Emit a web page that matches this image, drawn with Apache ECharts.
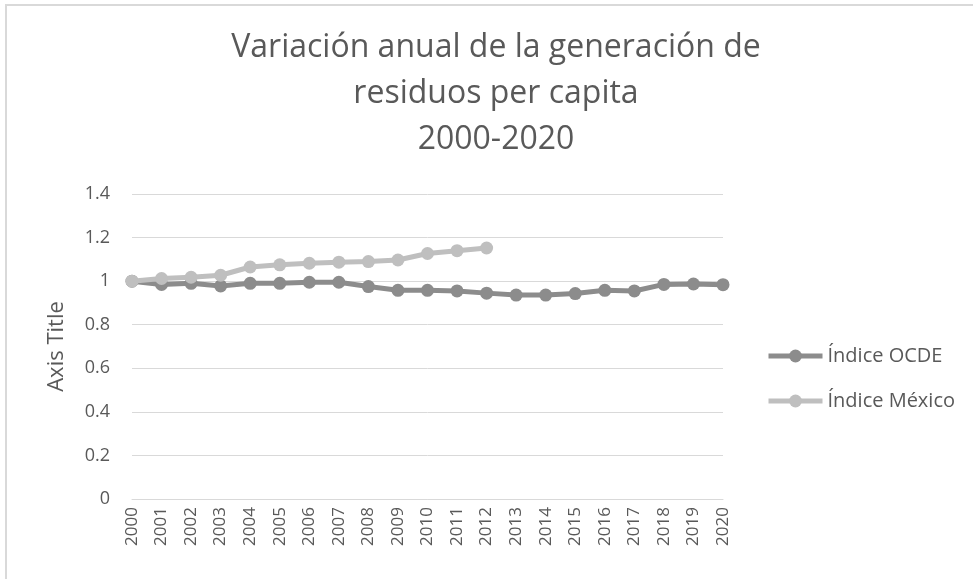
<!DOCTYPE html>
<html>
<head>
<meta charset="utf-8">
<script src="https://cdn.jsdelivr.net/npm/echarts@6/dist/echarts.min.js"></script>
<style>
  html, body { margin: 0; padding: 0; background: #fff; }
  #frame { position: absolute; left: 5px; top: 4px; width: 968px; height: 575px;
           border-top: 2px solid #d9d9d9; border-left: 2px solid #d9d9d9; }
  #chart { position: absolute; left: 0; top: 0; width: 973px; height: 579px; }
</style>
</head>
<body>
<div id="frame"></div>
<div id="chart"></div>
<script>
// datos
var years = ['2000','2001','2002','2003','2004','2005','2006','2007','2008','2009','2010',
             '2011','2012','2013','2014','2015','2016','2017','2018','2019','2020'];
var indiceOCDE = [1.0, 0.985, 0.99, 0.978, 0.99, 0.99, 0.995, 0.995, 0.975, 0.958, 0.958,
                  0.955, 0.945, 0.936, 0.936, 0.943, 0.958, 0.955, 0.985, 0.987, 0.984];
var indiceMexico = [1.0, 1.012, 1.018, 1.027, 1.065, 1.075, 1.082, 1.087, 1.09, 1.097, 1.127,
                    1.14, 1.152];
var yTicks = [0, 0.2, 0.4, 0.6, 0.8, 1, 1.2, 1.4];

(function(){

var chart = echarts.init(document.getElementById('chart'));
var txt = '#595959';

var option = {
    title: {
        text: 'Variación anual de la generación de\nresiduos per capita\n2000-2020',
        left: 491,
        top: 20,
        textAlign: 'center',
        padding: 5,
        textStyle: {
            fontFamily: 'Open Sans',
            fontWeight: 'normal',
            fontSize: 32,
            lineHeight: 46,
            color: txt
        }
    },
    legend: {
        orient: 'vertical',
        left: 761,
        top: 339,
        itemWidth: 54,
        itemHeight: 16,
        itemGap: 21,
        lineStyle: { width: 5 },
        textStyle: { fontFamily: 'Open Sans', fontSize: 20, lineHeight: 24, color: txt },
        data: ['Índice OCDE', 'Índice México']
    },
    grid: {
        left: 132,
        right: 250,
        top: 194,
        bottom: 80,
        containLabel: false
    },
    xAxis: {
        type: 'category',
        boundaryGap: false,
        data: years,
        axisLine: { lineStyle: { color: '#d9d9d9', width: 1 } },
        axisTick: { show: false },
        axisLabel: {
            rotate: 90,
            interval: 0,
            margin: 8,
            fontFamily: 'Open Sans',
            fontSize: 17,
            color: txt
        }
    },
    yAxis: {
        type: 'value',
        min: yTicks[0],
        max: yTicks[yTicks.length - 1],
        interval: 0.2,
        name: 'Axis Title',
        nameLocation: 'middle',
        nameRotate: 90,
        nameGap: 64,
        nameTextStyle: { fontFamily: 'Open Sans', fontSize: 22, color: txt },
        axisLine: { show: false },
        axisTick: { show: false },
        axisLabel: {
            margin: 22,
            fontFamily: 'Open Sans',
            fontSize: 18,
            color: txt,
            formatter: function (v) { return String(Math.round(v * 10) / 10); }
        },
        splitLine: { lineStyle: { color: '#d9d9d9', width: 1 } }
    },
    series: [
        {
            name: 'Índice OCDE',
            type: 'line',
            data: indiceOCDE,
            symbol: 'circle',
            symbolSize: 13,
            lineStyle: { width: 5, color: '#8c8c8c' },
            itemStyle: { color: '#8c8c8c' },
            z: 2
        },
        {
            name: 'Índice México',
            type: 'line',
            data: indiceMexico,
            symbol: 'circle',
            symbolSize: 13,
            lineStyle: { width: 5, color: '#bfbfbf' },
            itemStyle: { color: '#bfbfbf' },
            z: 3
        }
    ],
    animation: false
};

chart.setOption(option);
})();
</script>
</body>
</html>
